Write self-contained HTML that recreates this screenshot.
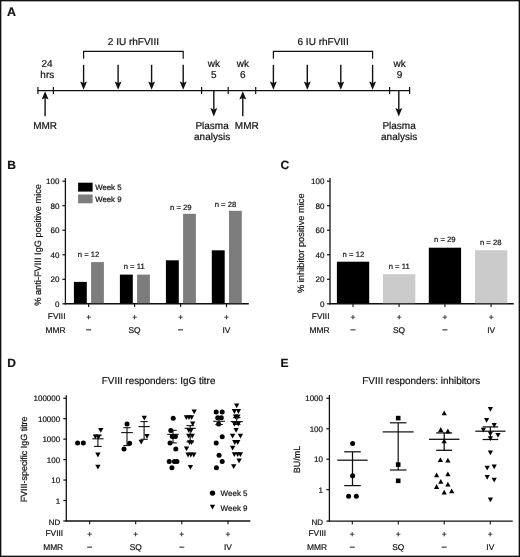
<!DOCTYPE html>
<html><head><meta charset="utf-8"><style>
html,body{margin:0;padding:0;background:#fff;}
svg{display:block;will-change:transform;}
text{font-family:"Liberation Sans", sans-serif;fill:#111;text-rendering:geometricPrecision;stroke:#111;stroke-width:0.2px;}
</style></head><body>
<svg width="520" height="557" viewBox="0 0 520 557">
<rect x="0" y="0" width="520" height="557" fill="#fff"/>
<text x="6.90" y="15.90" font-size="12.4" text-anchor="start" font-weight="bold" >A</text>
<line x1="37.50" y1="90.60" x2="409.90" y2="90.60" stroke="#111" stroke-width="1.3"/>
<line x1="37.90" y1="87.00" x2="37.90" y2="94.00" stroke="#111" stroke-width="1.2"/>
<line x1="53.40" y1="87.00" x2="53.40" y2="94.00" stroke="#111" stroke-width="1.2"/>
<line x1="201.60" y1="87.00" x2="201.60" y2="94.00" stroke="#111" stroke-width="1.2"/>
<line x1="228.20" y1="87.00" x2="228.20" y2="94.00" stroke="#111" stroke-width="1.2"/>
<line x1="255.70" y1="87.00" x2="255.70" y2="94.00" stroke="#111" stroke-width="1.2"/>
<line x1="389.60" y1="87.00" x2="389.60" y2="94.00" stroke="#111" stroke-width="1.2"/>
<line x1="409.60" y1="87.00" x2="409.60" y2="94.00" stroke="#111" stroke-width="1.2"/>
<path d="M83.6,58.8 L83.6,51.3 L183.2,51.3 L183.2,58.8" fill="none" stroke="#111" stroke-width="1.2"/>
<path d="M273.4,58.8 L273.4,51.3 L372.6,51.3 L372.6,58.8" fill="none" stroke="#111" stroke-width="1.2"/>
<line x1="83.60" y1="64.80" x2="83.60" y2="82.90" stroke="#111" stroke-width="1.4"/>
<path d="M83.60,89.80 L80.15,81.50 L83.60,82.90 L87.05,81.50 Z" fill="#111"/>
<line x1="118.10" y1="64.80" x2="118.10" y2="82.90" stroke="#111" stroke-width="1.4"/>
<path d="M118.10,89.80 L114.65,81.50 L118.10,82.90 L121.55,81.50 Z" fill="#111"/>
<line x1="151.60" y1="64.80" x2="151.60" y2="82.90" stroke="#111" stroke-width="1.4"/>
<path d="M151.60,89.80 L148.15,81.50 L151.60,82.90 L155.05,81.50 Z" fill="#111"/>
<line x1="183.20" y1="64.80" x2="183.20" y2="82.90" stroke="#111" stroke-width="1.4"/>
<path d="M183.20,89.80 L179.75,81.50 L183.20,82.90 L186.65,81.50 Z" fill="#111"/>
<line x1="273.40" y1="64.80" x2="273.40" y2="82.90" stroke="#111" stroke-width="1.4"/>
<path d="M273.40,89.80 L269.95,81.50 L273.40,82.90 L276.85,81.50 Z" fill="#111"/>
<line x1="307.30" y1="64.80" x2="307.30" y2="82.90" stroke="#111" stroke-width="1.4"/>
<path d="M307.30,89.80 L303.85,81.50 L307.30,82.90 L310.75,81.50 Z" fill="#111"/>
<line x1="340.80" y1="64.80" x2="340.80" y2="82.90" stroke="#111" stroke-width="1.4"/>
<path d="M340.80,89.80 L337.35,81.50 L340.80,82.90 L344.25,81.50 Z" fill="#111"/>
<line x1="372.60" y1="64.80" x2="372.60" y2="82.90" stroke="#111" stroke-width="1.4"/>
<path d="M372.60,89.80 L369.15,81.50 L372.60,82.90 L376.05,81.50 Z" fill="#111"/>
<line x1="213.80" y1="90.60" x2="213.80" y2="109.50" stroke="#111" stroke-width="1.4"/>
<path d="M213.80,116.40 L210.35,108.10 L213.80,109.50 L217.25,108.10 Z" fill="#111"/>
<line x1="398.80" y1="90.60" x2="398.80" y2="109.50" stroke="#111" stroke-width="1.4"/>
<path d="M398.80,116.40 L395.35,108.10 L398.80,109.50 L402.25,108.10 Z" fill="#111"/>
<line x1="45.10" y1="116.20" x2="45.10" y2="98.10" stroke="#111" stroke-width="1.4"/>
<path d="M45.10,91.20 L41.65,99.50 L45.10,98.10 L48.55,99.50 Z" fill="#111"/>
<line x1="242.80" y1="116.20" x2="242.80" y2="98.10" stroke="#111" stroke-width="1.4"/>
<path d="M242.80,91.20 L239.35,99.50 L242.80,98.10 L246.25,99.50 Z" fill="#111"/>
<text x="133.40" y="45.20" font-size="10" text-anchor="middle" font-weight="normal" >2 IU rhFVIII</text>
<text x="323.10" y="45.10" font-size="10" text-anchor="middle" font-weight="normal" >6 IU rhFVIII</text>
<text x="47.10" y="66.60" font-size="10" text-anchor="middle" font-weight="normal" >24</text>
<text x="47.30" y="77.90" font-size="10" text-anchor="middle" font-weight="normal" >hrs</text>
<text x="213.80" y="66.60" font-size="10" text-anchor="middle" font-weight="normal" >wk</text>
<text x="213.80" y="77.90" font-size="10" text-anchor="middle" font-weight="normal" >5</text>
<text x="242.80" y="66.60" font-size="10" text-anchor="middle" font-weight="normal" >wk</text>
<text x="242.80" y="77.90" font-size="10" text-anchor="middle" font-weight="normal" >6</text>
<text x="399.60" y="66.60" font-size="10" text-anchor="middle" font-weight="normal" >wk</text>
<text x="399.60" y="77.90" font-size="10" text-anchor="middle" font-weight="normal" >9</text>
<text x="45.10" y="129.40" font-size="10" text-anchor="middle" font-weight="normal" >MMR</text>
<text x="246.80" y="129.20" font-size="10" text-anchor="middle" font-weight="normal" >MMR</text>
<text x="212.10" y="129.00" font-size="10" text-anchor="middle" font-weight="normal" >Plasma</text>
<text x="212.10" y="140.20" font-size="10" text-anchor="middle" font-weight="normal" >analysis</text>
<text x="399.10" y="129.00" font-size="10" text-anchor="middle" font-weight="normal" >Plasma</text>
<text x="399.10" y="140.20" font-size="10" text-anchor="middle" font-weight="normal" >analysis</text>
<text x="7.20" y="168.80" font-size="12" text-anchor="start" font-weight="bold" >B</text>
<line x1="65.40" y1="178.10" x2="65.40" y2="304.40" stroke="#111" stroke-width="1.3"/>
<line x1="62.40" y1="303.80" x2="65.40" y2="303.80" stroke="#111" stroke-width="1.2"/>
<text x="59.40" y="306.65" font-size="8" text-anchor="end" font-weight="normal" >0</text>
<line x1="62.40" y1="279.28" x2="65.40" y2="279.28" stroke="#111" stroke-width="1.2"/>
<text x="59.40" y="282.13" font-size="8" text-anchor="end" font-weight="normal" >20</text>
<line x1="62.40" y1="254.76" x2="65.40" y2="254.76" stroke="#111" stroke-width="1.2"/>
<text x="59.40" y="257.61" font-size="8" text-anchor="end" font-weight="normal" >40</text>
<line x1="62.40" y1="230.24" x2="65.40" y2="230.24" stroke="#111" stroke-width="1.2"/>
<text x="59.40" y="233.09" font-size="8" text-anchor="end" font-weight="normal" >60</text>
<line x1="62.40" y1="205.72" x2="65.40" y2="205.72" stroke="#111" stroke-width="1.2"/>
<text x="59.40" y="208.57" font-size="8" text-anchor="end" font-weight="normal" >80</text>
<line x1="62.40" y1="181.20" x2="65.40" y2="181.20" stroke="#111" stroke-width="1.2"/>
<text x="59.40" y="184.05" font-size="8" text-anchor="end" font-weight="normal" >100</text>
<line x1="64.80" y1="303.80" x2="248.80" y2="303.80" stroke="#111" stroke-width="1.4"/>
<text transform="translate(41.20,244.90) rotate(-90)" x="0" y="0" font-size="9.25" text-anchor="middle">% anti-FVIII IgG positive mice</text>
<rect x="73.90" y="281.90" width="12.90" height="21.30" fill="#000"/>
<rect x="91.10" y="262.10" width="12.80" height="41.10" fill="#7d7d7d"/>
<rect x="119.90" y="274.60" width="12.90" height="28.60" fill="#000"/>
<rect x="137.10" y="274.60" width="12.80" height="28.60" fill="#7d7d7d"/>
<rect x="165.90" y="260.30" width="12.90" height="42.90" fill="#000"/>
<rect x="183.10" y="213.80" width="12.80" height="89.40" fill="#7d7d7d"/>
<rect x="211.80" y="250.30" width="12.90" height="52.90" fill="#000"/>
<rect x="229.00" y="210.80" width="12.80" height="92.40" fill="#7d7d7d"/>
<text x="88.60" y="256.55" font-size="7.7" text-anchor="middle" font-weight="normal" >n = 12</text>
<text x="134.20" y="268.75" font-size="7.7" text-anchor="middle" font-weight="normal" >n = 11</text>
<text x="180.80" y="210.15" font-size="7.7" text-anchor="middle" font-weight="normal" >n = 29</text>
<text x="225.50" y="207.25" font-size="7.7" text-anchor="middle" font-weight="normal" >n = 28</text>
<rect x="78.10" y="182.70" width="14.50" height="8.90" fill="#000"/>
<rect x="78.10" y="194.50" width="14.50" height="8.80" fill="#7d7d7d"/>
<text x="95.20" y="189.90" font-size="7.8" text-anchor="start" font-weight="normal" >Week 5</text>
<text x="95.20" y="201.80" font-size="7.8" text-anchor="start" font-weight="normal" >Week 9</text>
<line x1="88.60" y1="303.80" x2="88.60" y2="307.10" stroke="#111" stroke-width="1.1"/>
<text x="88.60" y="319.80" font-size="8.4" text-anchor="middle" font-weight="normal" >+</text>
<line x1="134.60" y1="303.80" x2="134.60" y2="307.10" stroke="#111" stroke-width="1.1"/>
<text x="134.60" y="319.80" font-size="8.4" text-anchor="middle" font-weight="normal" >+</text>
<line x1="180.60" y1="303.80" x2="180.60" y2="307.10" stroke="#111" stroke-width="1.1"/>
<text x="180.60" y="319.80" font-size="8.4" text-anchor="middle" font-weight="normal" >+</text>
<line x1="226.50" y1="303.80" x2="226.50" y2="307.10" stroke="#111" stroke-width="1.1"/>
<text x="226.50" y="319.80" font-size="8.4" text-anchor="middle" font-weight="normal" >+</text>
<line x1="86.10" y1="329.85" x2="91.10" y2="329.85" stroke="#111" stroke-width="0.95"/>
<text x="134.60" y="332.60" font-size="8.4" text-anchor="middle" font-weight="normal" >SQ</text>
<line x1="178.10" y1="329.85" x2="183.10" y2="329.85" stroke="#111" stroke-width="0.95"/>
<text x="226.50" y="332.60" font-size="8.4" text-anchor="middle" font-weight="normal" >IV</text>
<text x="65.50" y="318.70" font-size="8.4" text-anchor="end" font-weight="normal" >FVIII</text>
<text x="65.50" y="332.60" font-size="8.4" text-anchor="end" font-weight="normal" >MMR</text>
<text x="280.50" y="168.80" font-size="12" text-anchor="start" font-weight="bold" >C</text>
<line x1="330.00" y1="178.10" x2="330.00" y2="304.40" stroke="#111" stroke-width="1.3"/>
<line x1="327.00" y1="303.80" x2="330.00" y2="303.80" stroke="#111" stroke-width="1.2"/>
<text x="324.40" y="306.65" font-size="8" text-anchor="end" font-weight="normal" >0</text>
<line x1="327.00" y1="279.28" x2="330.00" y2="279.28" stroke="#111" stroke-width="1.2"/>
<text x="324.40" y="282.13" font-size="8" text-anchor="end" font-weight="normal" >20</text>
<line x1="327.00" y1="254.76" x2="330.00" y2="254.76" stroke="#111" stroke-width="1.2"/>
<text x="324.40" y="257.61" font-size="8" text-anchor="end" font-weight="normal" >40</text>
<line x1="327.00" y1="230.24" x2="330.00" y2="230.24" stroke="#111" stroke-width="1.2"/>
<text x="324.40" y="233.09" font-size="8" text-anchor="end" font-weight="normal" >60</text>
<line x1="327.00" y1="205.72" x2="330.00" y2="205.72" stroke="#111" stroke-width="1.2"/>
<text x="324.40" y="208.57" font-size="8" text-anchor="end" font-weight="normal" >80</text>
<line x1="327.00" y1="181.20" x2="330.00" y2="181.20" stroke="#111" stroke-width="1.2"/>
<text x="324.40" y="184.05" font-size="8" text-anchor="end" font-weight="normal" >100</text>
<line x1="329.40" y1="303.80" x2="513.80" y2="303.80" stroke="#111" stroke-width="1.4"/>
<text transform="translate(304.40,243.20) rotate(-90)" x="0" y="0" font-size="9.3" text-anchor="middle">% inhibitor positive mice</text>
<rect x="336.90" y="261.70" width="32.30" height="41.50" fill="#000"/>
<rect x="383.00" y="274.20" width="32.30" height="29.00" fill="#cbcbcb"/>
<rect x="428.80" y="247.70" width="32.30" height="55.50" fill="#000"/>
<rect x="475.00" y="250.20" width="32.30" height="53.00" fill="#cbcbcb"/>
<text x="353.40" y="256.55" font-size="7.7" text-anchor="middle" font-weight="normal" >n = 12</text>
<text x="399.20" y="268.55" font-size="7.7" text-anchor="middle" font-weight="normal" >n = 11</text>
<text x="444.80" y="241.75" font-size="7.7" text-anchor="middle" font-weight="normal" >n = 29</text>
<text x="490.70" y="245.05" font-size="7.7" text-anchor="middle" font-weight="normal" >n = 28</text>
<line x1="353.00" y1="303.80" x2="353.00" y2="307.10" stroke="#111" stroke-width="1.1"/>
<text x="353.00" y="319.80" font-size="8.4" text-anchor="middle" font-weight="normal" >+</text>
<line x1="399.10" y1="303.80" x2="399.10" y2="307.10" stroke="#111" stroke-width="1.1"/>
<text x="399.10" y="319.80" font-size="8.4" text-anchor="middle" font-weight="normal" >+</text>
<line x1="444.90" y1="303.80" x2="444.90" y2="307.10" stroke="#111" stroke-width="1.1"/>
<text x="444.90" y="319.80" font-size="8.4" text-anchor="middle" font-weight="normal" >+</text>
<line x1="491.10" y1="303.80" x2="491.10" y2="307.10" stroke="#111" stroke-width="1.1"/>
<text x="491.10" y="319.80" font-size="8.4" text-anchor="middle" font-weight="normal" >+</text>
<line x1="350.50" y1="329.85" x2="355.50" y2="329.85" stroke="#111" stroke-width="0.95"/>
<text x="399.10" y="332.60" font-size="8.4" text-anchor="middle" font-weight="normal" >SQ</text>
<line x1="442.40" y1="329.85" x2="447.40" y2="329.85" stroke="#111" stroke-width="0.95"/>
<text x="491.10" y="332.60" font-size="8.4" text-anchor="middle" font-weight="normal" >IV</text>
<text x="329.50" y="318.70" font-size="8.4" text-anchor="end" font-weight="normal" >FVIII</text>
<text x="329.50" y="332.60" font-size="8.4" text-anchor="end" font-weight="normal" >MMR</text>
<text x="7.20" y="366.90" font-size="12" text-anchor="start" font-weight="bold" >D</text>
<text x="158.60" y="384.00" font-size="9.9" text-anchor="middle" font-weight="normal" >FVIII responders: IgG titre</text>
<line x1="66.30" y1="395.20" x2="66.30" y2="521.60" stroke="#111" stroke-width="1.3"/>
<line x1="63.30" y1="398.20" x2="66.30" y2="398.20" stroke="#111" stroke-width="1.2"/>
<text x="60.20" y="401.35" font-size="8" text-anchor="end" font-weight="normal" >100000</text>
<line x1="63.30" y1="418.66" x2="66.30" y2="418.66" stroke="#111" stroke-width="1.2"/>
<text x="60.20" y="421.81" font-size="8" text-anchor="end" font-weight="normal" >10000</text>
<line x1="63.30" y1="439.12" x2="66.30" y2="439.12" stroke="#111" stroke-width="1.2"/>
<text x="60.20" y="442.27" font-size="8" text-anchor="end" font-weight="normal" >1000</text>
<line x1="63.30" y1="459.58" x2="66.30" y2="459.58" stroke="#111" stroke-width="1.2"/>
<text x="60.20" y="462.73" font-size="8" text-anchor="end" font-weight="normal" >100</text>
<line x1="63.30" y1="480.04" x2="66.30" y2="480.04" stroke="#111" stroke-width="1.2"/>
<text x="60.20" y="483.19" font-size="8" text-anchor="end" font-weight="normal" >10</text>
<line x1="63.30" y1="500.50" x2="66.30" y2="500.50" stroke="#111" stroke-width="1.2"/>
<text x="60.20" y="503.65" font-size="8" text-anchor="end" font-weight="normal" >1</text>
<line x1="63.30" y1="520.96" x2="66.30" y2="520.96" stroke="#111" stroke-width="1.2"/>
<text x="60.20" y="524.51" font-size="8" text-anchor="end" font-weight="normal" >ND</text>
<line x1="65.70" y1="521.00" x2="250.30" y2="521.00" stroke="#111" stroke-width="1.4"/>
<text transform="translate(26.9,459.4) rotate(-90)" x="0" y="0" font-size="8.95" text-anchor="middle">FVIII-specific IgG titre</text>
<line x1="89.60" y1="521.00" x2="89.60" y2="524.30" stroke="#111" stroke-width="1.1"/>
<text x="89.60" y="536.80" font-size="8.4" text-anchor="middle" font-weight="normal" >+</text>
<line x1="135.70" y1="521.00" x2="135.70" y2="524.30" stroke="#111" stroke-width="1.1"/>
<text x="135.70" y="536.80" font-size="8.4" text-anchor="middle" font-weight="normal" >+</text>
<line x1="181.80" y1="521.00" x2="181.80" y2="524.30" stroke="#111" stroke-width="1.1"/>
<text x="181.80" y="536.80" font-size="8.4" text-anchor="middle" font-weight="normal" >+</text>
<line x1="228.00" y1="521.00" x2="228.00" y2="524.30" stroke="#111" stroke-width="1.1"/>
<text x="228.00" y="536.80" font-size="8.4" text-anchor="middle" font-weight="normal" >+</text>
<line x1="87.10" y1="547.15" x2="92.10" y2="547.15" stroke="#111" stroke-width="0.95"/>
<text x="135.70" y="549.90" font-size="8.4" text-anchor="middle" font-weight="normal" >SQ</text>
<line x1="179.30" y1="547.15" x2="184.30" y2="547.15" stroke="#111" stroke-width="0.95"/>
<text x="228.00" y="549.90" font-size="8.4" text-anchor="middle" font-weight="normal" >IV</text>
<text x="63.20" y="535.70" font-size="8.4" text-anchor="end" font-weight="normal" >FVIII</text>
<text x="63.20" y="549.90" font-size="8.4" text-anchor="end" font-weight="normal" >MMR</text>
<circle cx="212.50" cy="493.10" r="2.7" fill="#000"/>
<path d="M209.85,504.80 L215.15,504.80 L212.50,509.60 Z" fill="#000"/>
<text x="220.60" y="495.90" font-size="8" text-anchor="start" font-weight="normal" >Week 5</text>
<text x="220.60" y="511.20" font-size="8" text-anchor="start" font-weight="normal" >Week 9</text>
<circle cx="77.60" cy="442.90" r="2.5" fill="#000"/>
<circle cx="83.30" cy="442.90" r="2.5" fill="#000"/>
<path d="M98.15,428.00 L103.45,428.00 L100.80,432.80 Z" fill="#000"/>
<path d="M92.75,434.40 L98.05,434.40 L95.40,439.20 Z" fill="#000"/>
<path d="M95.95,434.80 L101.25,434.80 L98.60,439.60 Z" fill="#000"/>
<path d="M95.25,452.60 L100.55,452.60 L97.90,457.40 Z" fill="#000"/>
<path d="M95.25,464.80 L100.55,464.80 L97.90,469.60 Z" fill="#000"/>
<line x1="97.90" y1="435.10" x2="97.90" y2="446.40" stroke="#111" stroke-width="1.1"/>
<line x1="92.20" y1="438.80" x2="103.60" y2="438.80" stroke="#111" stroke-width="1.1"/>
<line x1="94.10" y1="435.10" x2="101.70" y2="435.10" stroke="#111" stroke-width="1.1"/>
<line x1="94.10" y1="446.40" x2="101.70" y2="446.40" stroke="#111" stroke-width="1.1"/>
<circle cx="127.00" cy="424.00" r="2.5" fill="#000"/>
<circle cx="129.60" cy="443.20" r="2.5" fill="#000"/>
<circle cx="124.00" cy="449.10" r="2.5" fill="#000"/>
<line x1="127.00" y1="427.70" x2="127.00" y2="445.50" stroke="#111" stroke-width="1.1"/>
<line x1="121.15" y1="432.60" x2="132.85" y2="432.60" stroke="#111" stroke-width="1.1"/>
<line x1="123.40" y1="427.70" x2="130.60" y2="427.70" stroke="#111" stroke-width="1.1"/>
<line x1="123.40" y1="445.50" x2="130.60" y2="445.50" stroke="#111" stroke-width="1.1"/>
<path d="M141.65,415.80 L146.95,415.80 L144.30,420.60 Z" fill="#000"/>
<path d="M144.35,433.90 L149.65,433.90 L147.00,438.70 Z" fill="#000"/>
<path d="M138.55,439.80 L143.85,439.80 L141.20,444.60 Z" fill="#000"/>
<line x1="144.10" y1="421.60" x2="144.10" y2="439.30" stroke="#111" stroke-width="1.1"/>
<line x1="138.50" y1="426.60" x2="149.70" y2="426.60" stroke="#111" stroke-width="1.1"/>
<line x1="140.50" y1="421.60" x2="147.70" y2="421.60" stroke="#111" stroke-width="1.1"/>
<line x1="140.50" y1="439.30" x2="147.70" y2="439.30" stroke="#111" stroke-width="1.1"/>
<circle cx="173.20" cy="418.20" r="2.5" fill="#000"/>
<circle cx="170.80" cy="430.40" r="2.5" fill="#000"/>
<circle cx="172.30" cy="436.50" r="2.5" fill="#000"/>
<circle cx="175.40" cy="436.50" r="2.5" fill="#000"/>
<circle cx="170.00" cy="442.90" r="2.5" fill="#000"/>
<circle cx="175.80" cy="449.10" r="2.5" fill="#000"/>
<circle cx="169.20" cy="461.50" r="2.5" fill="#000"/>
<circle cx="174.40" cy="461.50" r="2.5" fill="#000"/>
<circle cx="176.90" cy="461.50" r="2.5" fill="#000"/>
<circle cx="171.90" cy="467.70" r="2.5" fill="#000"/>
<line x1="173.00" y1="430.30" x2="173.00" y2="442.90" stroke="#111" stroke-width="1.1"/>
<line x1="167.25" y1="434.40" x2="178.75" y2="434.40" stroke="#111" stroke-width="1.1"/>
<line x1="169.25" y1="430.30" x2="176.75" y2="430.30" stroke="#111" stroke-width="1.1"/>
<line x1="169.25" y1="442.90" x2="176.75" y2="442.90" stroke="#111" stroke-width="1.1"/>
<path d="M191.55,409.40 L196.85,409.40 L194.20,414.20 Z" fill="#000"/>
<path d="M183.75,415.20 L189.05,415.20 L186.40,420.00 Z" fill="#000"/>
<path d="M186.35,415.20 L191.65,415.20 L189.00,420.00 Z" fill="#000"/>
<path d="M188.95,415.20 L194.25,415.20 L191.60,420.00 Z" fill="#000"/>
<path d="M190.05,421.40 L195.35,421.40 L192.70,426.20 Z" fill="#000"/>
<path d="M186.15,428.00 L191.45,428.00 L188.80,432.80 Z" fill="#000"/>
<path d="M188.55,428.00 L193.85,428.00 L191.20,432.80 Z" fill="#000"/>
<path d="M186.15,433.80 L191.45,433.80 L188.80,438.60 Z" fill="#000"/>
<path d="M189.65,433.80 L194.95,433.80 L192.30,438.60 Z" fill="#000"/>
<path d="M186.95,440.30 L192.25,440.30 L189.60,445.10 Z" fill="#000"/>
<path d="M188.85,440.30 L194.15,440.30 L191.50,445.10 Z" fill="#000"/>
<path d="M183.85,446.40 L189.15,446.40 L186.50,451.20 Z" fill="#000"/>
<path d="M185.35,452.60 L190.65,452.60 L188.00,457.40 Z" fill="#000"/>
<path d="M188.15,452.60 L193.45,452.60 L190.80,457.40 Z" fill="#000"/>
<path d="M191.15,452.60 L196.45,452.60 L193.80,457.40 Z" fill="#000"/>
<path d="M187.75,464.90 L193.05,464.90 L190.40,469.70 Z" fill="#000"/>
<line x1="190.20" y1="425.60" x2="190.20" y2="441.90" stroke="#111" stroke-width="1.1"/>
<line x1="184.60" y1="428.30" x2="195.80" y2="428.30" stroke="#111" stroke-width="1.1"/>
<line x1="186.45" y1="425.60" x2="193.95" y2="425.60" stroke="#111" stroke-width="1.1"/>
<line x1="186.45" y1="441.90" x2="193.95" y2="441.90" stroke="#111" stroke-width="1.1"/>
<circle cx="216.20" cy="412.10" r="2.5" fill="#000"/>
<circle cx="222.20" cy="412.10" r="2.5" fill="#000"/>
<circle cx="217.80" cy="417.80" r="2.5" fill="#000"/>
<circle cx="221.30" cy="417.80" r="2.5" fill="#000"/>
<circle cx="218.60" cy="424.00" r="2.5" fill="#000"/>
<circle cx="222.20" cy="436.70" r="2.5" fill="#000"/>
<circle cx="216.20" cy="443.10" r="2.5" fill="#000"/>
<circle cx="219.10" cy="455.30" r="2.5" fill="#000"/>
<circle cx="222.20" cy="461.60" r="2.5" fill="#000"/>
<circle cx="216.40" cy="467.70" r="2.5" fill="#000"/>
<line x1="219.10" y1="418.00" x2="219.10" y2="424.50" stroke="#111" stroke-width="1.1"/>
<line x1="213.20" y1="421.30" x2="225.00" y2="421.30" stroke="#111" stroke-width="1.1"/>
<line x1="215.35" y1="418.00" x2="222.85" y2="418.00" stroke="#111" stroke-width="1.1"/>
<line x1="215.35" y1="424.50" x2="222.85" y2="424.50" stroke="#111" stroke-width="1.1"/>
<path d="M234.05,403.40 L239.35,403.40 L236.70,408.20 Z" fill="#000"/>
<path d="M231.75,409.10 L237.05,409.10 L234.40,413.90 Z" fill="#000"/>
<path d="M235.75,409.10 L241.05,409.10 L238.40,413.90 Z" fill="#000"/>
<path d="M232.85,414.60 L238.15,414.60 L235.50,419.40 Z" fill="#000"/>
<path d="M235.25,414.60 L240.55,414.60 L237.90,419.40 Z" fill="#000"/>
<path d="M231.75,421.60 L237.05,421.60 L234.40,426.40 Z" fill="#000"/>
<path d="M235.75,421.60 L241.05,421.60 L238.40,426.40 Z" fill="#000"/>
<path d="M233.45,427.90 L238.75,427.90 L236.10,432.70 Z" fill="#000"/>
<path d="M229.95,433.70 L235.25,433.70 L232.60,438.50 Z" fill="#000"/>
<path d="M237.75,433.70 L243.05,433.70 L240.40,438.50 Z" fill="#000"/>
<path d="M232.15,440.10 L237.45,440.10 L234.80,444.90 Z" fill="#000"/>
<path d="M235.05,440.10 L240.35,440.10 L237.70,444.90 Z" fill="#000"/>
<path d="M229.95,445.80 L235.25,445.80 L232.60,450.60 Z" fill="#000"/>
<path d="M231.75,452.20 L237.05,452.20 L234.40,457.00 Z" fill="#000"/>
<path d="M235.05,452.20 L240.35,452.20 L237.70,457.00 Z" fill="#000"/>
<path d="M237.75,452.20 L243.05,452.20 L240.40,457.00 Z" fill="#000"/>
<path d="M236.45,458.50 L241.75,458.50 L239.10,463.30 Z" fill="#000"/>
<path d="M231.05,464.30 L236.35,464.30 L233.70,469.10 Z" fill="#000"/>
<line x1="236.70" y1="417.60" x2="236.70" y2="424.50" stroke="#111" stroke-width="1.1"/>
<line x1="230.60" y1="421.60" x2="242.80" y2="421.60" stroke="#111" stroke-width="1.1"/>
<line x1="232.95" y1="417.60" x2="240.45" y2="417.60" stroke="#111" stroke-width="1.1"/>
<line x1="232.95" y1="424.50" x2="240.45" y2="424.50" stroke="#111" stroke-width="1.1"/>
<text x="280.50" y="366.90" font-size="12" text-anchor="start" font-weight="bold" >E</text>
<text x="421.30" y="384.00" font-size="9.9" text-anchor="middle" font-weight="normal" >FVIII responders: inhibitors</text>
<line x1="329.40" y1="395.00" x2="329.40" y2="521.70" stroke="#111" stroke-width="1.3"/>
<line x1="326.40" y1="398.30" x2="329.40" y2="398.30" stroke="#111" stroke-width="1.2"/>
<text x="323.00" y="401.45" font-size="8" text-anchor="end" font-weight="normal" >1000</text>
<line x1="326.40" y1="428.75" x2="329.40" y2="428.75" stroke="#111" stroke-width="1.2"/>
<text x="323.00" y="431.90" font-size="8" text-anchor="end" font-weight="normal" >100</text>
<line x1="326.40" y1="459.20" x2="329.40" y2="459.20" stroke="#111" stroke-width="1.2"/>
<text x="323.00" y="462.35" font-size="8" text-anchor="end" font-weight="normal" >10</text>
<line x1="326.40" y1="489.65" x2="329.40" y2="489.65" stroke="#111" stroke-width="1.2"/>
<text x="323.00" y="492.80" font-size="8" text-anchor="end" font-weight="normal" >1</text>
<line x1="326.40" y1="521.10" x2="329.40" y2="521.10" stroke="#111" stroke-width="1.2"/>
<text x="323.00" y="524.65" font-size="8" text-anchor="end" font-weight="normal" >ND</text>
<line x1="328.80" y1="521.10" x2="512.70" y2="521.10" stroke="#111" stroke-width="1.4"/>
<text transform="translate(299.6,459.5) rotate(-90)" x="0" y="0" font-size="9.0" text-anchor="middle">BU/mL</text>
<line x1="352.30" y1="521.10" x2="352.30" y2="524.40" stroke="#111" stroke-width="1.1"/>
<text x="352.30" y="536.80" font-size="8.4" text-anchor="middle" font-weight="normal" >+</text>
<line x1="398.30" y1="521.10" x2="398.30" y2="524.40" stroke="#111" stroke-width="1.1"/>
<text x="398.30" y="536.80" font-size="8.4" text-anchor="middle" font-weight="normal" >+</text>
<line x1="444.20" y1="521.10" x2="444.20" y2="524.40" stroke="#111" stroke-width="1.1"/>
<text x="444.20" y="536.80" font-size="8.4" text-anchor="middle" font-weight="normal" >+</text>
<line x1="490.30" y1="521.10" x2="490.30" y2="524.40" stroke="#111" stroke-width="1.1"/>
<text x="490.30" y="536.80" font-size="8.4" text-anchor="middle" font-weight="normal" >+</text>
<line x1="349.80" y1="547.15" x2="354.80" y2="547.15" stroke="#111" stroke-width="0.95"/>
<text x="398.30" y="549.90" font-size="8.4" text-anchor="middle" font-weight="normal" >SQ</text>
<line x1="441.70" y1="547.15" x2="446.70" y2="547.15" stroke="#111" stroke-width="0.95"/>
<text x="490.30" y="549.90" font-size="8.4" text-anchor="middle" font-weight="normal" >IV</text>
<text x="326.20" y="535.70" font-size="8.4" text-anchor="end" font-weight="normal" >FVIII</text>
<text x="327.00" y="549.90" font-size="8.4" text-anchor="end" font-weight="normal" >MMR</text>
<line x1="352.50" y1="451.80" x2="352.50" y2="485.60" stroke="#111" stroke-width="1.25"/>
<line x1="337.35" y1="460.20" x2="367.65" y2="460.20" stroke="#111" stroke-width="1.25"/>
<line x1="344.25" y1="451.80" x2="360.75" y2="451.80" stroke="#111" stroke-width="1.25"/>
<line x1="344.25" y1="485.60" x2="360.75" y2="485.60" stroke="#111" stroke-width="1.25"/>
<circle cx="352.60" cy="443.50" r="2.5" fill="#000"/>
<circle cx="352.60" cy="475.80" r="2.5" fill="#000"/>
<circle cx="348.60" cy="496.30" r="2.5" fill="#000"/>
<circle cx="356.30" cy="496.30" r="2.5" fill="#000"/>
<line x1="398.20" y1="422.80" x2="398.20" y2="470.00" stroke="#111" stroke-width="1.2"/>
<line x1="382.70" y1="431.90" x2="413.70" y2="431.90" stroke="#111" stroke-width="1.2"/>
<line x1="389.90" y1="422.80" x2="406.50" y2="422.80" stroke="#111" stroke-width="1.2"/>
<line x1="389.90" y1="470.00" x2="406.50" y2="470.00" stroke="#111" stroke-width="1.2"/>
<rect x="395.90" y="415.80" width="4.60" height="4.60" fill="#000"/>
<rect x="395.90" y="462.30" width="4.60" height="4.60" fill="#000"/>
<rect x="395.90" y="478.50" width="4.60" height="4.60" fill="#000"/>
<line x1="444.20" y1="432.90" x2="444.20" y2="450.30" stroke="#111" stroke-width="1.3"/>
<line x1="428.95" y1="439.30" x2="459.45" y2="439.30" stroke="#111" stroke-width="1.3"/>
<line x1="436.25" y1="432.90" x2="452.15" y2="432.90" stroke="#111" stroke-width="1.3"/>
<line x1="436.25" y1="450.30" x2="452.15" y2="450.30" stroke="#111" stroke-width="1.3"/>
<path d="M441.60,415.30 L446.80,415.30 L444.20,410.50 Z" fill="#000"/>
<path d="M438.20,431.90 L443.40,431.90 L440.80,427.10 Z" fill="#000"/>
<path d="M445.30,433.40 L450.50,433.40 L447.90,428.60 Z" fill="#000"/>
<path d="M441.60,443.20 L446.80,443.20 L444.20,438.40 Z" fill="#000"/>
<path d="M437.80,462.10 L443.00,462.10 L440.40,457.30 Z" fill="#000"/>
<path d="M445.30,462.50 L450.50,462.50 L447.90,457.70 Z" fill="#000"/>
<path d="M434.00,477.20 L439.20,477.20 L436.60,472.40 Z" fill="#000"/>
<path d="M445.30,476.30 L450.50,476.30 L447.90,471.50 Z" fill="#000"/>
<path d="M438.20,483.80 L443.40,483.80 L440.80,479.00 Z" fill="#000"/>
<path d="M434.00,488.90 L439.20,488.90 L436.60,484.10 Z" fill="#000"/>
<path d="M445.30,486.60 L450.50,486.60 L447.90,481.80 Z" fill="#000"/>
<path d="M441.60,494.60 L446.80,494.60 L444.20,489.80 Z" fill="#000"/>
<path d="M449.10,493.20 L454.30,493.20 L451.70,488.40 Z" fill="#000"/>
<line x1="490.40" y1="426.90" x2="490.40" y2="439.50" stroke="#111" stroke-width="1.25"/>
<line x1="475.30" y1="431.20" x2="505.50" y2="431.20" stroke="#111" stroke-width="1.25"/>
<line x1="482.60" y1="426.90" x2="498.20" y2="426.90" stroke="#111" stroke-width="1.25"/>
<line x1="482.60" y1="439.50" x2="498.20" y2="439.50" stroke="#111" stroke-width="1.25"/>
<path d="M487.80,407.00 L493.00,407.00 L490.40,411.80 Z" fill="#000"/>
<path d="M484.00,417.90 L489.20,417.90 L486.60,422.70 Z" fill="#000"/>
<path d="M491.60,423.00 L496.80,423.00 L494.20,427.80 Z" fill="#000"/>
<path d="M480.80,427.70 L486.00,427.70 L483.40,432.50 Z" fill="#000"/>
<path d="M487.80,431.50 L493.00,431.50 L490.40,436.30 Z" fill="#000"/>
<path d="M495.40,433.00 L500.60,433.00 L498.00,437.80 Z" fill="#000"/>
<path d="M487.80,436.20 L493.00,436.20 L490.40,441.00 Z" fill="#000"/>
<path d="M487.80,450.40 L493.00,450.40 L490.40,455.20 Z" fill="#000"/>
<path d="M484.60,465.80 L489.80,465.80 L487.20,470.60 Z" fill="#000"/>
<path d="M491.60,464.50 L496.80,464.50 L494.20,469.30 Z" fill="#000"/>
<path d="M484.60,474.90 L489.80,474.90 L487.20,479.70 Z" fill="#000"/>
<path d="M491.60,477.70 L496.80,477.70 L494.20,482.50 Z" fill="#000"/>
<path d="M487.80,497.50 L493.00,497.50 L490.40,502.30 Z" fill="#000"/>
<rect x="0.65" y="0.65" width="518.7" height="555.7" fill="none" stroke="#111" stroke-width="1.4"/>
</svg>
</body></html>
